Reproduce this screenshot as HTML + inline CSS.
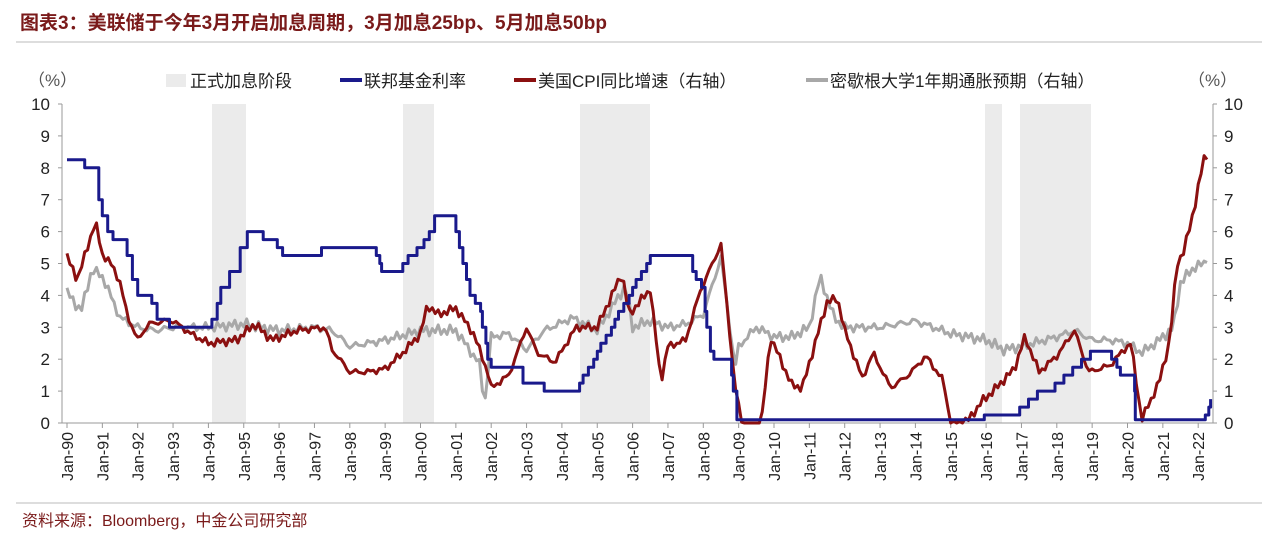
<!DOCTYPE html>
<html><head><meta charset="utf-8">
<style>
body{margin:0;background:#fff;width:1280px;height:550px;overflow:hidden;font-family:"Liberation Sans","Noto Sans CJK SC",sans-serif;}
svg text{font-family:"Liberation Sans","Noto Sans CJK SC",sans-serif;}
</style></head><body>
<svg id="s" width="1280" height="550" xmlns="http://www.w3.org/2000/svg">
<text x="20" y="29" font-size="19" font-weight="bold" fill="#7a1a1a">图表3：美联储于今年3月开启加息周期，3月加息25bp、5月加息50bp</text>
<line x1="16" y1="42" x2="1262" y2="42" stroke="#ddd" stroke-width="2"/>
<g font-size="17" fill="#222">
<text x="28" y="86" fill="#555">（%）</text>
<text x="1188" y="86" fill="#555">（%）</text>
<rect x="166" y="74" width="20" height="13" fill="#ebebeb"/>
<text x="190" y="87">正式加息阶段</text>
<line x1="340" y1="80" x2="362" y2="80" stroke="#1a1a8c" stroke-width="4"/>
<text x="364" y="87">联邦基金利率</text>
<line x1="514" y1="80" x2="536" y2="80" stroke="#8b1010" stroke-width="4"/>
<text x="538" y="87">美国CPI同比增速（右轴）</text>
<line x1="806" y1="80" x2="828" y2="80" stroke="#a8a8a8" stroke-width="4"/>
<text x="830" y="87">密歇根大学1年期通胀预期（右轴）</text>
</g>
<g id="shade" fill="#ebebeb">
<rect x="212" y="104" width="34" height="319"/>
<rect x="403" y="104" width="31" height="319"/>
<rect x="580" y="104" width="70" height="319"/>
<rect x="985" y="104" width="17" height="319"/>
<rect x="1020" y="104" width="71" height="319"/>
</g>
<g id="axes" stroke="#999" stroke-width="1" fill="none"></g>
<g id="lab" font-size="17" fill="#222"></g>
<g id="series" fill="none" stroke-width="3" stroke-linejoin="round"></g>
<line x1="16" y1="503" x2="1262" y2="503" stroke="#ddd" stroke-width="2"/>
<text x="22" y="526" font-size="16" fill="#7a1a1a">资料来源：Bloomberg，中金公司研究部</text>
</svg>
<script>
var NS="http://www.w3.org/2000/svg";
function el(p,t,a,txt){var e=document.createElementNS(NS,t);for(var k in a)e.setAttribute(k,a[k]);if(txt!==undefined)e.textContent=txt;document.getElementById(p).appendChild(e);return e;}
var X0=67,DX=35.35,Y0=423,DY=31.9;
function X(t){return X0+(t-1990)*DX;}function Y(v){return Y0-v*DY;}
el("axes","line",{x1:62,y1:104,x2:62,y2:423});
el("axes","line",{x1:1213,y1:104,x2:1213,y2:423});
el("axes","line",{x1:62,y1:423,x2:1213,y2:423});
for(var i=0;i<=10;i++){var y=Y(i);
el("axes","line",{x1:58,y1:y,x2:62,y2:y});el("axes","line",{x1:1213,y1:y,x2:1217,y2:y});
el("lab","text",{x:50,y:y+6,"text-anchor":"end"},i);el("lab","text",{x:1224,y:y+6},i);}
for(var yr=0;yr<=32;yr++){var x=X(1990+yr);el("axes","line",{x1:x,y1:423,x2:x,y2:428});
var s=("0"+((90+yr)%100)).slice(-2);
el("lab","text",{x:0,y:0,"text-anchor":"end",transform:"translate("+(x+6)+",432) rotate(-90)","font-size":"16"},"Jan-"+s);}
function interp(a,t){if(t<=a[0][0])return a[0][1];for(var i=1;i<a.length;i++){if(t<=a[i][0]){var p=a[i-1],q=a[i];return p[1]+(q[1]-p[1])*(t-p[0])/(q[0]-p[0]);}}return a[a.length-1][1];}
function line(pts,col){el("series","polyline",{points:pts.join(" "),stroke:col});}
var ff=[[1990,8.25],[1990.5,8],[1990.9,7],[1991,6.5],[1991.15,6],[1991.3,5.75],[1991.7,5.25],[1991.85,4.5],[1992,4],[1992.4,3.75],[1992.55,3.25],[1992.9,3],[1994.1,3.25],[1994.25,3.75],[1994.35,4.25],[1994.6,4.75],[1994.9,5.5],[1995.1,6],[1995.55,5.75],[1995.95,5.5],[1996.1,5.25],[1997.2,5.5],[1998.75,5.25],[1998.85,5],[1998.9,4.75],[1999.5,5],[1999.65,5.25],[1999.9,5.5],[2000.1,5.75],[2000.25,6],[2000.4,6.5],[2001.0,6],[2001.1,5.5],[2001.2,5],[2001.3,4.5],[2001.4,4],[2001.55,3.75],[2001.7,3.5],[2001.75,3],[2001.85,2.5],[2001.9,2],[2002,1.75],[2002.9,1.25],[2003.5,1],[2004.5,1.25],[2004.6,1.5],[2004.75,1.75],[2004.9,2],[2005,2.25],[2005.1,2.5],[2005.25,2.75],[2005.4,3],[2005.5,3.25],[2005.6,3.5],[2005.75,3.75],[2005.9,4],[2006,4.25],[2006.1,4.5],[2006.25,4.75],[2006.4,5],[2006.5,5.25],[2007.7,4.75],[2007.8,4.5],[2007.95,4.25],[2008.05,3.5],[2008.1,3],[2008.2,2.25],[2008.3,2],[2008.8,1.5],[2008.85,1],[2008.95,0.1],[2015.95,0.25],[2016.95,0.5],[2017.2,0.75],[2017.45,1],[2017.95,1.25],[2018.2,1.5],[2018.45,1.75],[2018.7,2],[2018.95,2.25],[2019.55,2],[2019.7,1.75],[2019.8,1.5],[2020.2,1],[2020.22,0.1],[2022.2,0.25],[2022.3,0.5],[2022.35,0.75]];
var p=[];for(var i=0;i<ff.length;i++){if(i>0)p.push(X(ff[i][0]).toFixed(1)+","+Y(ff[i-1][1]).toFixed(1));p.push(X(ff[i][0]).toFixed(1)+","+Y(ff[i][1]).toFixed(1));}
var mi=[[1990,4.1],[1990.4,3.5],[1990.7,4.8],[1991,4.6],[1991.5,3.3],[1992,3.0],[1992.5,2.9],[1993,3.0],[1994,3.0],[1995,3.1],[1996,2.9],[1997,3.0],[1997.5,2.9],[1998,2.4],[1999,2.6],[2000,2.9],[2001,2.9],[2001.7,1.8],[2001.8,0.4],[2002,2.7],[2002.5,2.8],[2003,2.3],[2003.5,2.9],[2004.3,3.3],[2005,2.9],[2005.8,4.3],[2006,3.0],[2006.5,3.2],[2007,3.0],[2007.5,3.1],[2008,3.4],[2008.5,5.2],[2008.9,1.7],[2009,2.4],[2009.5,3.0],[2010,2.7],[2010.5,2.7],[2011,3.0],[2011.3,4.6],[2011.7,3.3],[2012,3.0],[2013,3.0],[2014,3.2],[2015,2.8],[2016,2.6],[2016.5,2.3],[2017,2.4],[2018,2.7],[2018.5,2.9],[2019,2.6],[2019.5,2.6],[2020,2.5],[2020.4,2.2],[2020.9,2.6],[2021.3,3.0],[2021.5,4.4],[2021.9,4.9],[2022.2,5.0],[2022.3,5.4]];
var cpi=[[1990,5.2],[1990.3,4.5],[1990.6,5.6],[1990.8,6.3],[1991,5.3],[1991.3,4.9],[1991.5,4.4],[1991.7,3.4],[1992,2.6],[1992.3,3.1],[1992.8,3.2],[1993,3.2],[1993.5,2.8],[1994,2.5],[1994.8,2.6],[1995.3,3.1],[1995.8,2.6],[1996.5,2.9],[1997.3,3.0],[1997.5,2.3],[1998,1.6],[1998.5,1.6],[1999,1.7],[1999.5,2.2],[2000,2.8],[2000.2,3.7],[2000.5,3.4],[2001,3.6],[2001.5,2.8],[2001.9,1.6],[2002,1.1],[2002.5,1.5],[2003,3.0],[2003.3,2.2],[2003.8,1.9],[2004.4,3.0],[2005,3.0],[2005.7,4.7],[2005.9,3.4],[2006.5,4.2],[2006.8,1.3],[2007,2.4],[2007.5,2.6],[2007.9,4.1],[2008.5,5.6],[2008.9,1.1],[2009.1,0],[2009.5,-1.5],[2009.9,2.7],[2010.5,1.2],[2010.8,1.1],[2011.5,3.8],[2011.8,3.9],[2012,2.9],[2012.5,1.4],[2012.8,2.2],[2013.3,1.1],[2013.8,1.5],[2014.3,2.1],[2014.8,1.3],[2015,-0.1],[2015.5,0.1],[2015.9,0.7],[2016.2,1.0],[2016.8,1.7],[2017.1,2.7],[2017.5,1.6],[2018,2.1],[2018.5,2.9],[2018.9,1.6],[2019.5,1.8],[2019.9,2.3],[2020.1,2.5],[2020.4,0.1],[2020.9,1.3],[2021.2,2.6],[2021.4,5.0],[2021.6,5.4],[2021.9,6.8],[2022.2,8.5],[2022.3,8.3]];
function series(a,amp,col,clip){var pts=[];for(var t=1990;t<=a[a.length-1][0]+0.001;t+=1/12){var v=interp(a,t)+amp*(Math.sin(t*37.1)*0.6+Math.sin(t*91.7)*0.4);if(clip&&v<0)v=0;pts.push(X(t).toFixed(1)+","+Y(v).toFixed(1));}line(pts,col);}
series(mi,0.18,"#a8a8a8",true);
series(cpi,0.15,"#8b1010",true);
line(p,"#1a1a8c");
</script>
</body></html>
